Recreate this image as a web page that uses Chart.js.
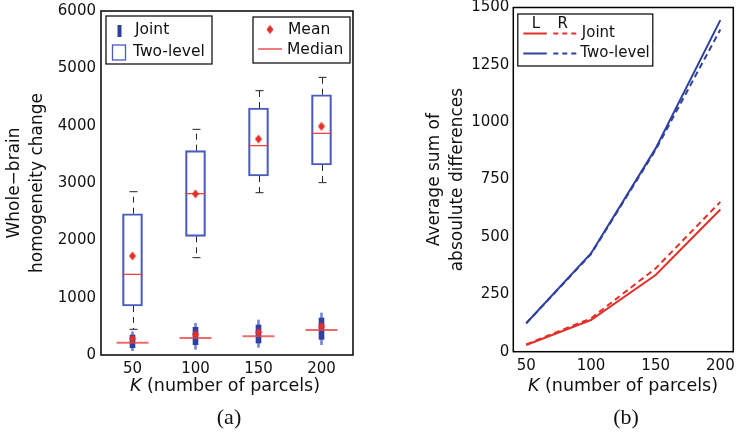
<!DOCTYPE html>
<html>
<head>
<meta charset="utf-8">
<script src="https://cdn.jsdelivr.net/npm/chart.js@4.4.1/dist/chart.umd.min.js"></script>
<style>
  body { margin: 0; width: 736px; height: 434px; background: #fff; position: relative; overflow: hidden; font-family: "DejaVu Sans", sans-serif; }
  #ca { position: absolute; left: 0; top: 0; }
  #cb { position: absolute; left: 410px; top: 0; }
  .xl { position: absolute; font-size: 17.5px; line-height: 1; color: #111; white-space: nowrap; transform: translateX(-50%); }
  .cap { position: absolute; font-family: "Liberation Serif", serif; font-size: 22px; line-height: 1; color: #111; transform: translateX(-50%); }
</style>
</head>
<body>
<canvas id="ca" width="380" height="434"></canvas>
<canvas id="cb" width="326" height="434"></canvas>
<div class="xl" style="left:225px;top:377px"><i>K</i> (number of parcels)</div>
<div class="xl" style="left:623px;top:377px"><i>K</i> (number of parcels)</div>
<div class="cap" style="left:229px;top:406px">(a)</div>
<div class="cap" style="left:626px;top:406px">(b)</div>
<script>
// panel (a): box plots per K
const kLabels = ['50', '100', '150', '200'];

// Two-level
const twoLo = [448, 1698, 2831, 3006];
const twoQ1 = [855, 2070, 3122, 3314];
const twoMed = [1407, 2814, 3651, 3866];
const twoQ3 = [2464, 3564, 4308, 4540];
const twoHi = [2848, 3936, 4610, 4843];
const twoMean = [1727, 2810, 3767, 3988];

// Joint
const jointLo = [75, 99, 134, 180];
const jointQ1 = [127, 180, 209, 273];
const jointMed = [215, 296, 326, 436];
const jointQ3 = [349, 483, 523, 645];
const jointHi = [407, 553, 610, 733];
const jointMean = [285, 361, 396, 500];

// panel (b): average sum of absolute differences, left / right hemisphere
const kValues = [50, 100, 150, 200];
const jointL = [29, 138, 334, 620];
const jointR = [32, 145, 363, 653];
const twoL = [124, 428, 886, 1445];
const twoR = [124, 425, 880, 1404];

const RED = '#e2302a';
const BLUE = '#2f41a0';
const FONT = '"DejaVu Sans", sans-serif';

// thin diamond marker (matplotlib 'd')
const diamond = document.createElement('canvas');
diamond.width = 8; diamond.height = 10;
(() => {
    const c = diamond.getContext('2d');
    c.fillStyle = RED;
    c.beginPath();
    c.moveTo(4, 0.5); c.lineTo(7.5, 5); c.lineTo(4, 9.5); c.lineTo(0.5, 5);
    c.closePath(); c.fill();
})();

const frame = {
    id: 'frame',
    afterDraw(chart) {
        const { ctx, chartArea: ca } = chart;
        ctx.save();
        ctx.strokeStyle = '#000';
        ctx.lineWidth = 1.5;
        ctx.strokeRect(ca.left, ca.top, ca.right - ca.left, ca.bottom - ca.top);
        ctx.restore();
    }
};

// dashed whiskers + caps of the Two-level boxes
const whiskers = {
    id: 'whiskers',
    beforeDatasetsDraw(chart) {
        const { ctx, scales: { x, y } } = chart;
        ctx.save();
        ctx.strokeStyle = '#222';
        ctx.lineWidth = 1;
        const seg = (x1, y1, x2, y2) => { ctx.beginPath(); ctx.moveTo(x1, y1); ctx.lineTo(x2, y2); ctx.stroke(); };
        kLabels.forEach((k, i) => {
            const px = Math.round(x.getPixelForValue(i)) + 0.5;
            ctx.setLineDash([6, 5]);
            seg(px, y.getPixelForValue(twoQ3[i]), px, y.getPixelForValue(twoHi[i]));
            seg(px, y.getPixelForValue(twoQ1[i]), px, y.getPixelForValue(twoLo[i]));
            ctx.setLineDash([]);
            seg(px - 4, y.getPixelForValue(twoHi[i]), px + 4, y.getPixelForValue(twoHi[i]));
            seg(px - 4, y.getPixelForValue(twoLo[i]), px + 4, y.getPixelForValue(twoLo[i]));
        });
        ctx.restore();
    }
};

const legendA = {
    id: 'legendA',
    afterDraw(chart) {
        const { ctx, chartArea: ca } = chart;
        const L = ca.left, T = ca.top;
        ctx.save();
        ctx.lineWidth = 1.2;
        ctx.strokeStyle = '#000';
        ctx.fillStyle = '#fff';
        ctx.fillRect(L + 5, T + 5, 106, 48);
        ctx.strokeRect(L + 5, T + 5, 106, 48);
        ctx.fillRect(L + 152, T + 6, 97, 46);
        ctx.strokeRect(L + 152, T + 6, 97, 46);

        // Joint marker
        ctx.fillStyle = BLUE;
        ctx.fillRect(L + 16.5, T + 14, 4, 12);
        // Two-level marker
        ctx.strokeStyle = '#4a5bbd';
        ctx.lineWidth = 1.3;
        ctx.strokeRect(L + 11.5, T + 34, 13, 15);
        // Mean marker
        ctx.drawImage(diamond, L + 165, T + 13.5);
        // Median marker
        ctx.strokeStyle = 'rgba(235,80,80,0.75)';
        ctx.lineWidth = 2;
        ctx.beginPath();
        ctx.moveTo(L + 157, T + 38);
        ctx.lineTo(L + 181, T + 38);
        ctx.stroke();

        ctx.fillStyle = '#111';
        ctx.font = '15.5px ' + FONT;
        ctx.textBaseline = 'middle';
        ctx.fillText('Joint', L + 34, T + 19);
        ctx.fillText('Two-level', L + 32, T + 41);
        ctx.fillText('Mean', L + 187, T + 19);
        ctx.fillText('Median', L + 186, T + 38.5);
        ctx.restore();
    }
};

const legendB = {
    id: 'legendB',
    afterDraw(chart) {
        const { ctx, chartArea: ca } = chart;
        const L = ca.left, T = ca.top;
        ctx.save();
        ctx.lineWidth = 1.2;
        ctx.strokeStyle = '#000';
        ctx.fillStyle = '#fff';
        ctx.fillRect(L + 4.5, T + 6.5, 135, 52);
        ctx.strokeRect(L + 4.5, T + 6.5, 135, 52);

        const seg = (x1, x2, y, color, dash) => {
            ctx.strokeStyle = color;
            ctx.lineWidth = 2;
            ctx.setLineDash(dash);
            ctx.beginPath(); ctx.moveTo(L + x1, T + y); ctx.lineTo(L + x2, T + y); ctx.stroke();
        };
        seg(10, 33.5, 26, RED, []);
        seg(40, 63.5, 26, RED, [5, 4]);
        seg(10, 33.5, 46, BLUE, []);
        seg(40, 63.5, 46, BLUE, [5, 4]);
        ctx.setLineDash([]);

        ctx.fillStyle = '#111';
        ctx.font = '15px ' + FONT;
        ctx.textBaseline = 'middle';
        ctx.textAlign = 'center';
        ctx.fillText('L', L + 22.7, T + 17);
        ctx.fillText('R', L + 49.4, T + 17);
        ctx.textAlign = 'left';
        ctx.fillText('Joint', L + 68.5, T + 25.5);
        ctx.fillText('Two-level', L + 67, T + 46);
        ctx.restore();
    }
};

const tickFont = { family: FONT, size: 15 };
const titleFont = { family: FONT, size: 17, lineHeight: 1.3 };
const plain = v => String(v);
// no extra margins for overflowing tick labels: chart area comes from layout padding
const noPad = s => { s.paddingTop = 0; s.paddingBottom = 0; s.paddingLeft = 0; s.paddingRight = 0; };

// ---------- panel (a) ----------
new Chart(document.getElementById('ca'), {
    type: 'bar',
    data: {
        labels: kLabels,
        datasets: [
            { label: 'Two-level mean', type: 'line', data: twoMean, showLine: false, pointStyle: diamond, order: 0 },
            { label: 'Joint mean', type: 'line', data: jointMean, showLine: false, pointStyle: diamond, order: 0 },
            { label: 'Two-level median', type: 'line', data: twoMed, showLine: false, pointStyle: 'line', pointRadius: 10, pointBorderColor: '#e84040', pointBorderWidth: 1.3, order: 1 },
            { label: 'Joint median', type: 'line', data: jointMed, showLine: false, pointStyle: 'line', pointRadius: 16, pointBorderColor: 'rgba(235,70,70,0.8)', pointBorderWidth: 2, order: 1 },
            { label: 'Two-level', data: twoQ1.map((v, i) => [v, twoQ3[i]]), backgroundColor: 'rgba(0,0,0,0)', borderColor: '#4a5bbd', borderWidth: 1.5, borderSkipped: false, barThickness: 20, grouped: false, order: 2 },
            { label: 'Joint', data: jointQ1.map((v, i) => [v, jointQ3[i]]), backgroundColor: BLUE, borderWidth: 0, barThickness: 5, grouped: false, order: 2 },
            { label: 'Joint whisker', data: jointLo.map((v, i) => [v, jointHi[i]]), backgroundColor: 'rgba(95,115,205,0.85)', borderWidth: 0, barThickness: 2, grouped: false, order: 3 }
        ]
    },
    options: {
        responsive: false,
        animation: false,
        events: [],
        layout: { autoPadding: false, padding: { top: 11, right: 27, left: 0, bottom: 0 } },
        plugins: { legend: { display: false }, tooltip: { enabled: false } },
        scales: {
            x: {
                offset: true,
                grid: { display: false, drawTicks: false },
                border: { display: false },
                ticks: { font: tickFont, color: '#111', padding: 5 },
                afterFit(s) { s.height = 79; noPad(s); }
            },
            y: {
                min: 0,
                max: 6000,
                grid: { display: false, drawTicks: false },
                border: { display: false },
                ticks: { stepSize: 1000, font: tickFont, color: '#111', padding: 5, callback: plain },
                title: { display: true, text: ['Whole\u2212brain', 'homogeneity change'], font: titleFont, color: '#111', padding: { top: 4, bottom: 0 } },
                afterFit(s) { s.width = 101; noPad(s); }
            }
        }
    },
    plugins: [whiskers, frame, legendA]
});

// ---------- panel (b) ----------
const pts = arr => kValues.map((k, i) => ({ x: k, y: arr[i] }));
new Chart(document.getElementById('cb'), {
    type: 'line',
    data: {
        datasets: [
            { label: 'Joint L', data: pts(jointL), borderColor: RED, borderWidth: 2, pointRadius: 0 },
            { label: 'Joint R', data: pts(jointR), borderColor: RED, borderWidth: 2, borderDash: [6, 4], pointRadius: 0 },
            { label: 'Two-level L', data: pts(twoL), borderColor: BLUE, borderWidth: 2, pointRadius: 0 },
            { label: 'Two-level R', data: pts(twoR), borderColor: BLUE, borderWidth: 2, borderDash: [6, 4], pointRadius: 0 }
        ]
    },
    options: {
        responsive: false,
        animation: false,
        events: [],
        layout: { autoPadding: false, padding: { top: 7.5, right: 2.7, left: 0, bottom: 0 } },
        plugins: { legend: { display: false }, tooltip: { enabled: false } },
        scales: {
            x: {
                type: 'linear',
                min: 40,
                max: 210,
                grid: { display: false, drawTicks: false },
                border: { display: false },
                ticks: { font: tickFont, color: '#111', padding: 5, callback: plain },
                afterBuildTicks(s) { s.ticks = kValues.map(v => ({ value: v })); },
                afterFit(s) { s.height = 82.3; noPad(s); }
            },
            y: {
                min: 0,
                max: 1500,
                grid: { display: false, drawTicks: false },
                border: { display: false },
                ticks: { stepSize: 250, font: tickFont, color: '#111', padding: 4, callback: plain },
                title: { display: true, text: ['Average sum of', 'absoulute differences'], font: titleFont, color: '#111', padding: { top: 14, bottom: 0 } },
                afterFit(s) { s.width = 103.3; noPad(s); }
            }
        }
    },
    plugins: [frame, legendB]
});
</script>
</body>
</html>
